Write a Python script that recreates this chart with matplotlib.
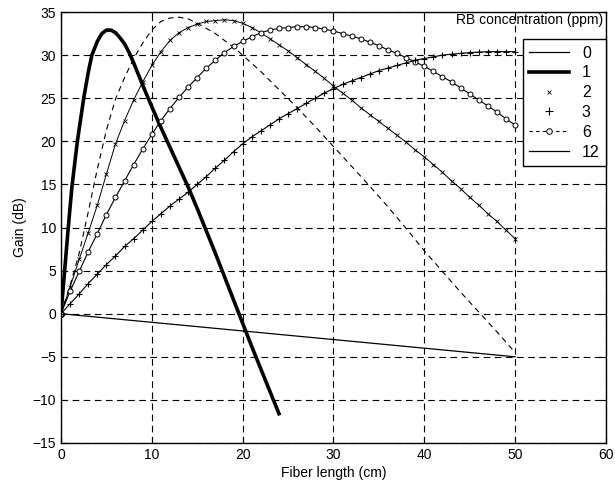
# Gain vs fiber length for several RB concentrations
import matplotlib.pyplot as plt
from matplotlib.lines import Line2D

plt.rcParams['font.family'] = ['Liberation Sans', 'DejaVu Sans']
plt.rcParams['font.size'] = 10

# 0 ppm: straight loss line
x_c0 = [0, 10, 20, 30, 40, 50]
g_c0 = [0, -1.0, -2.0, -3.0, -4.0, -5.0]

# 1 ppm: thick curve
x_c1 = [0, 0.4, 0.8, 1.2, 1.8, 2.5, 3, 3.4, 4, 4.5, 5, 5.5, 6, 6.5, 7, 7.5,
        8, 8.5, 9, 10, 11, 12, 13, 14, 15, 16, 17, 18, 19, 20, 21, 22, 23, 24]
g_c1 = [0, 5.0, 10.0, 14.7, 20.0, 25.0, 28.0, 30.0, 31.6, 32.5, 32.9, 32.9,
        32.6, 32.0, 31.3, 30.3, 29.1, 27.8, 26.5, 24.0, 21.6, 19.3, 17.0,
        14.7, 12.2, 9.6, 7.0, 4.3, 1.6, -1.1, -3.8, -6.4, -9.0, -11.6]

# 2 ppm: dashed curve
x_c2 = [0, 1, 2, 3, 4, 5, 6, 7, 8, 9, 10, 11, 12, 13, 14, 15, 16, 17, 18, 19,
        20, 22, 24, 26, 28, 30, 32, 34, 36, 38, 40, 42, 44, 46, 48, 50]
g_c2 = [0, 3.3, 7.0, 11.8, 16.8, 21.3, 24.9, 27.4, 29.6, 31.4, 32.9, 33.9,
        34.3, 34.4, 34.2, 33.7, 33.1, 32.5, 31.7, 30.9, 30.0, 28.1, 26.0, 23.9,
        21.7, 19.4, 17.1, 14.8, 12.4, 9.9, 7.3, 4.9, 2.5, 0.2, -2.1, -4.5]

# 3 ppm: thin curve with small x marks
x_c3 = list(range(0, 51))
g_c3 = [0, 3.1, 6.3, 9.4, 12.6, 16.2, 19.7, 22.4, 24.8, 26.9, 28.8, 30.4,
        31.7, 32.6, 33.2, 33.6, 33.9, 34.0, 34.1, 34.0, 33.7, 33.2, 32.6, 31.9,
        31.2, 30.5, 29.7, 28.9, 28.1, 27.3, 26.4, 25.6, 24.8, 23.9, 23.1, 22.3,
        21.5, 20.7, 19.9, 19.0, 18.2, 17.3, 16.4, 15.4, 14.5, 13.5, 12.6, 11.6,
        10.7, 9.7, 8.7]

# 6 ppm: circles
x_c6 = list(range(0, 51))
g_c6 = [0, 2.6, 4.9, 7.2, 9.3, 11.5, 13.5, 15.4, 17.3, 19.1, 20.8, 22.4,
        23.8, 25.1, 26.3, 27.4, 28.5, 29.4, 30.3, 31.0, 31.6, 32.1, 32.6, 32.9,
        33.1, 33.2, 33.3, 33.3, 33.2, 33.0, 32.8, 32.5, 32.2, 31.9, 31.5, 31.1,
        30.6, 30.2, 29.7, 29.2, 28.7, 28.1, 27.5, 26.9, 26.2, 25.5, 24.8, 24.1,
        23.4, 22.6, 21.9]

# 12 ppm: plus marks
x_c12 = list(range(0, 51))
g_c12 = [0, 1.15, 2.3, 3.5, 4.6, 5.7, 6.7, 7.8, 8.7, 9.7, 10.7, 11.6, 12.5,
         13.3, 14.1, 15.0, 15.9, 16.9, 17.8, 18.8, 19.7, 20.5, 21.2, 21.9,
         22.6, 23.2, 23.8, 24.4, 25.0, 25.6, 26.1, 26.6, 27.0, 27.4, 27.8,
         28.2, 28.5, 28.8, 29.1, 29.4, 29.6, 29.8, 30.0, 30.1, 30.2, 30.3,
         30.35, 30.4, 30.4, 30.4, 30.4]

legend_labels = ['0', '1', '2', '3', '6', '12']

fig = plt.figure(figsize=(6.15, 4.92), dpi=100)
ax = fig.add_axes([0.0992, 0.0996, 0.886, 0.876])

ax.plot(x_c0, g_c0, color='black', linewidth=0.9)
ax.plot([0], [0], 'o', color='black', markersize=4)
ax.plot(x_c1, g_c1, color='black', linewidth=2.6)
ax.plot(x_c2, g_c2, color='black', linewidth=0.8, dashes=(5, 4))
ax.plot(x_c3, g_c3, color='black', linewidth=0.7, marker='x', markersize=2.5,
        markeredgewidth=0.6)
ax.plot(x_c6, g_c6, color='black', linewidth=0.8, marker='o', markersize=3.6,
        markerfacecolor='white', markeredgewidth=0.7)
ax.plot(x_c12, g_c12, color='black', linewidth=0.8, marker='+', markersize=5,
        markeredgewidth=0.8)

ax.set_xlim(0, 60)
ax.set_ylim(-15, 35)
ax.set_xticks(range(0, 61, 10))
ax.set_yticks(range(-15, 36, 5))
ax.grid(True, color='black', linewidth=0.8, dashes=(6, 4))
ax.tick_params(direction='in', top=True, right=True, length=4, width=0.8)
for s in ax.spines.values():
    s.set_linewidth(1.0)

ax.set_xlabel('Fiber length (cm)', labelpad=3)
ax.set_ylabel('Gain (dB)', labelpad=4)

handles = [
    Line2D([], [], color='black', linewidth=0.9),
    Line2D([], [], color='black', linewidth=2.6),
    Line2D([], [], color='black', linestyle='none', marker='x', markersize=3,
           markeredgewidth=0.6),
    Line2D([], [], color='black', linestyle='none', marker='+', markersize=6,
           markeredgewidth=0.8),
    Line2D([], [], color='black', linewidth=0.8, dashes=(3, 3), marker='o',
           markersize=4, markerfacecolor='white', markeredgewidth=0.7),
    Line2D([], [], color='black', linewidth=0.9),
]
leg = ax.legend(handles, legend_labels, loc='upper right',
                bbox_to_anchor=(1.0, 0.937), borderaxespad=0, fancybox=False,
                edgecolor='black', framealpha=1, fontsize=11.5,
                handlelength=2.5, handletextpad=0.8, labelspacing=0.3,
                borderpad=0.4)
leg.get_frame().set_linewidth(1.0)

ax.text(0.994, 0.981, 'RB concentration (ppm)', transform=ax.transAxes,
        ha='right', va='center', fontsize=10)

fig.savefig('out.png', dpi=100)
